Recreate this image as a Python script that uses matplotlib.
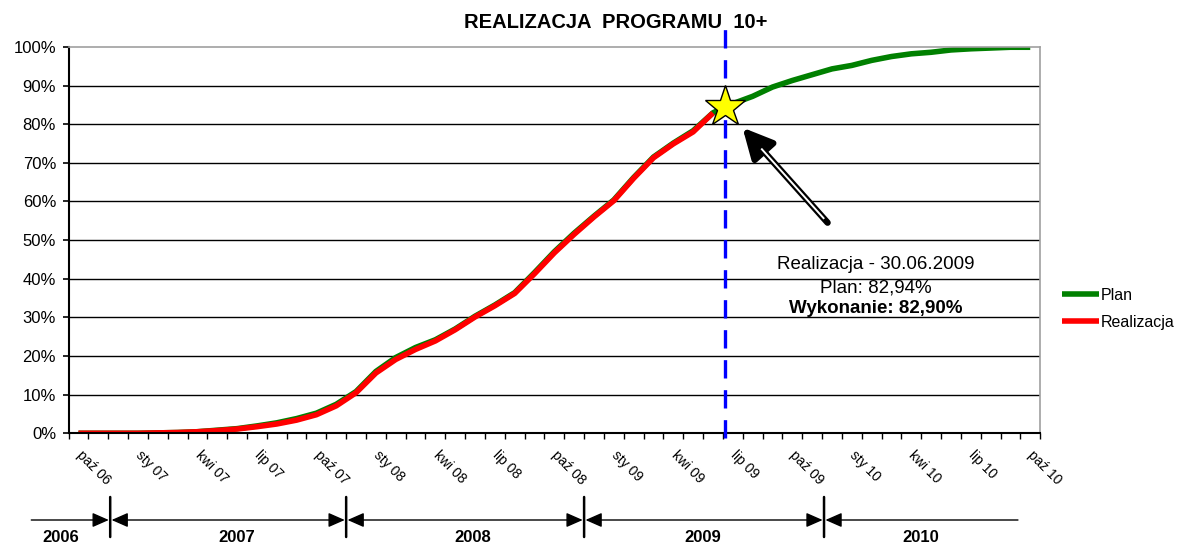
import numpy as np
import matplotlib
matplotlib.use("Agg")
import matplotlib.pyplot as plt
import matplotlib.transforms as mtransforms

plt.rcParams["font.family"] = ["Liberation Sans", "DejaVu Sans"]

# monthly points paz 2006 .. paz 2010 (49 months)
month_names = ["paź", "lis", "gru", "sty", "lut", "mar", "kwi", "maj", "cze",
               "lip", "sie", "wrz"]
months = [f"{month_names[i % 12]} {(6 + (i + 9) // 12):02d}" for i in range(49)]

plan = [0, 0, 0, 0, 0.1, 0.2, 0.4, 0.8, 1.2, 1.9, 2.7, 3.8, 5.2, 7.5, 10.8,
        16.0, 19.6, 22.2, 24.2, 27.0, 30.3, 33.2, 36.4, 41.6, 47.0, 51.8,
        56.2, 60.4, 66.2, 71.5, 75.1, 78.3, 82.94, 85.3, 87.2, 89.6, 91.3,
        92.8, 94.3, 95.2, 96.5, 97.5, 98.2, 98.6, 99.2, 99.5, 99.7, 99.9, 99.9]
realizacja = [0, 0, 0, 0, 0.1, 0.2, 0.4, 0.7, 1.1, 1.7, 2.4, 3.4, 4.8, 7.1,
              10.5, 15.6, 19.1, 21.7, 23.9, 26.8, 30.1, 33.0, 36.2, 41.3, 46.7,
              51.5, 56.0, 60.2, 66.0, 71.3, 74.9, 78.0, 82.90]

cut_x = 32.6          # 30.06.2009
star_y = 84.4
years = ["2006", "2007", "2008", "2009", "2010"]
year_bounds = [1.6, 13.5, 25.5, 37.6]
year_label_x = [-0.9, 8.0, 19.9, 31.5, 42.5]
timeline_start, timeline_end = -2.45, 47.45

fig = plt.figure(figsize=(11.82, 5.45), dpi=100)
ax = fig.add_axes([0.058, 0.205, 0.822, 0.709])

x_plan = np.arange(len(plan))
x_real = np.arange(len(realizacja))
ax.plot(x_plan, plan, color="#008000", lw=4.0, label="Plan", solid_capstyle="butt")
ax.plot(x_real, realizacja, color="#ff0000", lw=4.0, label="Realizacja",
        solid_capstyle="butt")

ax.set_xlim(-0.5, 48.5)
ax.set_ylim(0, 100)

# grid
for v in range(10, 100, 10):
    ax.axhline(v, color="black", lw=1.0, zorder=0)

for s in ["top", "right"]:
    ax.spines[s].set_color("#a0a0a0")
    ax.spines[s].set_linewidth(1.2)
for s in ["left", "bottom"]:
    ax.spines[s].set_linewidth(1.5)

ax.set_yticks(range(0, 101, 10))
ax.set_yticklabels([f"{v}%" for v in range(0, 101, 10)])
ax.tick_params(axis="y", labelsize=12, length=4, width=1.2, pad=5)

ax.set_xticks(np.arange(-0.5, 49, 1))
ax.set_xticklabels([])
ax.tick_params(axis="x", which="major", length=4, width=1.0)
ax.set_xticks(range(0, 49, 3), minor=True)
labels = ax.set_xticklabels([months[i] for i in range(0, 49, 3)], minor=True,
                            rotation=-45, ha="left", va="top",
                            rotation_mode="anchor", fontsize=10)
ax.tick_params(axis="x", which="minor", length=0, pad=11)
shift = mtransforms.ScaledTranslation(5 / 100, 0, fig.dpi_scale_trans)
for lab in labels:
    lab.set_transform(lab.get_transform() + shift)

# cut-off date
ax.plot([cut_x, cut_x], [-0.012, 1.045], color="#0000ff", lw=2.4,
        dashes=(5.5, 3.5), transform=ax.get_xaxis_transform(), clip_on=False,
        zorder=3)
ax.plot([cut_x], [star_y], marker="*", ms=31, mfc="#ffff00", mec="black",
        mew=1.0, zorder=5, clip_on=False)

# arrow pointing at the star
tip = (33.49, 79.1)
tail = (37.78, 54.5)
ax.annotate("", xy=tip, xytext=tail,
            arrowprops=dict(arrowstyle="-|>,head_length=0.9,head_width=0.45",
                            lw=4.6, color="black", shrinkA=0, shrinkB=0,
                            mutation_scale=20), zorder=6)
t0, t1 = 0.04, 0.78
ax.plot([tail[0] + t0 * (tip[0] - tail[0]), tail[0] + t1 * (tip[0] - tail[0])],
        [tail[1] + t0 * (tip[1] - tail[1]), tail[1] + t1 * (tip[1] - tail[1])],
        color="white", lw=1.4, zorder=7, solid_capstyle="butt")

ax.text(40.2, 43.6, "Realizacja - 30.06.2009", ha="center", va="center", fontsize=13.5)
ax.text(40.2, 37.6, "Plan: 82,94%", ha="center", va="center", fontsize=13.5)
ax.text(40.2, 32.2, "Wykonanie: 82,90%", ha="center", va="center", fontsize=13.5,
        fontweight="bold")

fig.text(616 / 1182, 1 - 22 / 545, "REALIZACJA  PROGRAMU  10+", ha="center",
         va="center", fontsize=14.5, fontweight="bold")

ax.legend(loc="center left", bbox_to_anchor=(1062 / 1182, 1 - 309 / 545),
          bbox_transform=fig.transFigure, frameon=False, fontsize=11.5,
          handlelength=2.3, handletextpad=0.1, labelspacing=0.75, borderpad=0,
          borderaxespad=0)

# year timeline under the axis
yline = 1 - 520 / 545
ybar0, ybar1 = 1 - 537 / 545, 1 - 497 / 545
coords = ("data", "figure fraction")
segments = [timeline_start] + year_bounds + [timeline_end]
for k in range(len(segments) - 1):
    a, b = segments[k], segments[k + 1]
    if k == 0:
        style = "-|>"
    elif k == len(segments) - 2:
        style = "<|-"
    else:
        style = "<|-|>"
    ax.annotate("", xy=(b, yline), xytext=(a, yline), xycoords=coords,
                textcoords=coords,
                arrowprops=dict(arrowstyle=style + ",head_length=0.5,head_width=0.22",
                                lw=1.0, color="black", shrinkA=1, shrinkB=1,
                                mutation_scale=20), annotation_clip=False)
for xb in year_bounds:
    ax.annotate("", xy=(xb, ybar0), xytext=(xb, ybar1), xycoords=coords,
                textcoords=coords, annotation_clip=False,
                arrowprops=dict(arrowstyle="-", lw=1.8, color="black",
                                shrinkA=0, shrinkB=0))
for xl, yr in zip(year_label_x, years):
    ax.annotate(yr, xy=(xl, 1 - 538 / 545), xycoords=coords, ha="center",
                va="center", fontsize=12, fontweight="bold",
                annotation_clip=False)

fig.savefig("out.png", dpi=100)
